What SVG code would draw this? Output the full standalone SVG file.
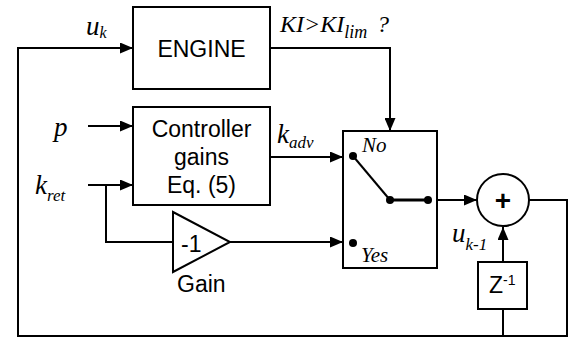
<svg xmlns="http://www.w3.org/2000/svg" width="574" height="338" viewBox="0 0 574 338">
<style>
.blk{fill:#fff;stroke:#000;stroke-width:2}
.ln{fill:none;stroke:#000;stroke-width:2}
.sans{font-family:"Liberation Sans",Arial,sans-serif;font-size:23px;fill:#000}
.ser{font-family:"Liberation Serif","Times New Roman",serif;font-style:italic;fill:#000}
</style>
<defs>
<marker id="ah" markerUnits="userSpaceOnUse" markerWidth="13" markerHeight="11" refX="13" refY="5.5" orient="auto">
<path d="M0,0 L13,5.5 L0,11 z" fill="#000"/>
</marker>
</defs>
<rect width="574" height="338" fill="#fff"/>
<g id="connectors">
<path class="ln" d="M529 200 H567 V336 H18 V48 H133" marker-end="url(#ah)"/>
<path class="ln" d="M503 336 V309"/>
<path class="ln" d="M503 262 V227" marker-end="url(#ah)"/>
<path class="ln" d="M270 48 H390 V131" marker-end="url(#ah)"/>
<path class="ln" d="M88 126 H133" marker-end="url(#ah)"/>
<path class="ln" d="M88 185 H133" marker-end="url(#ah)"/>
<path class="ln" d="M106 185 V242 H173"/>
<path class="ln" d="M230 242 H343" marker-end="url(#ah)"/>
<path class="ln" d="M270 157 H343" marker-end="url(#ah)"/>
<path class="ln" d="M437 200 H477" marker-end="url(#ah)"/>
</g>
<g id="engine">
<rect class="blk" x="133" y="7" width="137" height="82"/>
<text class="sans" x="201.5" y="57" text-anchor="middle">ENGINE</text>
</g>
<g id="controller">
<rect class="blk" x="133" y="107" width="137" height="98"/>
<text class="sans" x="201.5" y="137" text-anchor="middle">Controller</text>
<text class="sans" x="201.5" y="165" text-anchor="middle">gains</text>
<text class="sans" x="201.5" y="193" text-anchor="middle">Eq. (5)</text>
</g>
<g id="gain">
<path class="blk" d="M173 212 L230 242 L173 272 Z"/>
<text class="sans" x="181" y="252" font-size="22">-1</text>
<text class="sans" x="177" y="292">Gain</text>
</g>
<g id="switch">
<rect class="blk" x="343" y="131" width="94" height="137"/>
<line x1="353" y1="156" x2="390" y2="200" stroke="#000" stroke-width="2"/>
<line x1="390" y1="200" x2="428" y2="200" stroke="#000" stroke-width="3"/>
<circle cx="353" cy="156" r="4"/>
<circle cx="390" cy="200" r="4"/>
<circle cx="428" cy="200" r="4"/>
<circle cx="353" cy="243" r="4"/>
<text class="ser" x="362" y="152" font-size="21">No</text>
<text class="ser" x="361" y="262" font-size="21">Yes</text>
</g>
<g id="sum">
<circle class="blk" cx="503" cy="200" r="26"/>
<text x="503" y="210" text-anchor="middle" font-family="Liberation Sans,Arial,sans-serif" font-size="28" font-weight="bold">+</text>
</g>
<g id="delay">
<rect class="blk" x="478" y="262" width="49" height="47"/>
<text class="sans" x="489" y="293" font-size="22">Z<tspan font-size="14" dy="-8">-1</tspan></text>
</g>
<g id="labels">
<text class="ser" x="86" y="35" font-size="27">u<tspan font-size="16" dy="3">k</tspan></text>
<text class="ser" x="280" y="32" font-size="24">KI&gt;KI<tspan font-size="18" dy="6">lim</tspan><tspan font-size="24" dy="-6" x="377">?</tspan></text>
<text class="ser" x="54" y="136" font-size="27">p</text>
<text class="ser" x="35" y="194" font-size="27">k<tspan font-size="17" dy="7">ret</tspan></text>
<text class="ser" x="277" y="143" font-size="27">k<tspan font-size="17" dy="5">adv</tspan></text>
<text class="ser" x="452" y="242" font-size="27">u<tspan font-size="17" dy="8">k-1</tspan></text>
</g>
</svg>
